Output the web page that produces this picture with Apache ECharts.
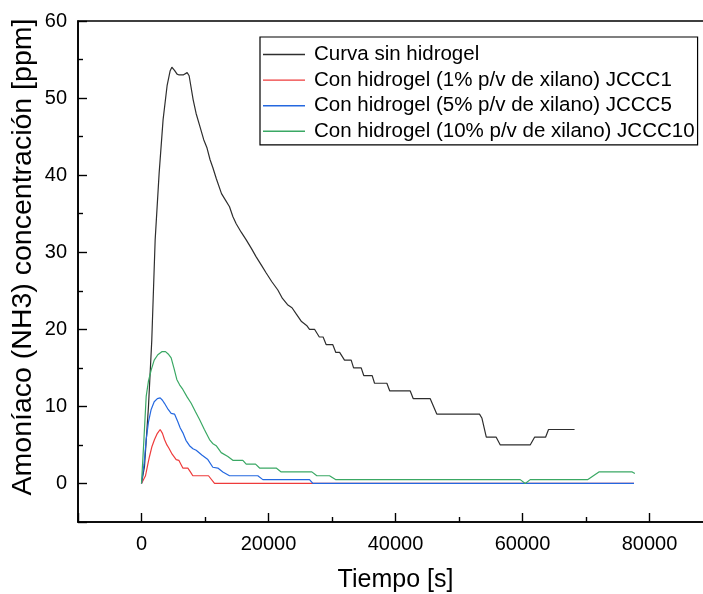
<!DOCTYPE html>
<html>
<head>
<meta charset="utf-8">
<script src="https://cdn.jsdelivr.net/npm/echarts@6/dist/echarts.min.js"></script>
<style>
  html, body { margin: 0; padding: 0; background: #fff; }
  #chart { width: 703px; height: 594px; }
</style>
</head>
<body>
<div id="chart"></div>
<script>
// Series names shown in the legend
const seriesNames = [
  'Curva sin hidrogel',
  'Con hidrogel (1% p/v de xilano) JCCC1',
  'Con hidrogel (5% p/v de xilano) JCCC5',
  'Con hidrogel (10% p/v de xilano) JCCC10'
];

// Ammonia concentration readings: [time (s), concentration (ppm)]
const sinHidrogel = [
  [0, 0], [470, 2.2], [1100, 10.0], [1620, 18.6], [2150, 31.6], [2780, 40.3],
  [3400, 47.2], [4030, 51.6], [4500, 53.5], [4780, 54.0], [5200, 53.6], [5600, 53.1],
  [5930, 53.0], [6560, 53.0], [7190, 53.3], [7500, 52.9], [8130, 49.8], [8600, 48.0],
  [9240, 46.2], [9800, 44.6], [10290, 43.6], [10800, 42.0], [11230, 41.0], [11800, 39.5],
  [12600, 37.6], [13200, 36.8], [13860, 35.9], [14400, 34.6], [14910, 33.7], [15700, 32.6],
  [16490, 31.6], [17300, 30.5], [18060, 29.4], [18900, 28.3], [19640, 27.3], [20500, 26.2],
  [21470, 25.1], [22200, 24.0], [23000, 23.2], [23700, 22.8], [24360, 22.0], [25200, 21.0],
  [26000, 20.5], [26460, 20.0], [27250, 20.0], [28000, 19.0], [28600, 19.0], [29090, 18.0],
  [30130, 18.0], [30600, 17.0], [31200, 17.0], [31970, 16.0], [33020, 16.0], [33400, 15.0],
  [34600, 15.0], [35000, 14.0], [36330, 14.0], [36700, 13.0], [38640, 13.0], [39100, 12.0],
  [42320, 12.0], [42800, 11.0], [45470, 11.0], [46500, 9.0], [53230, 9.0], [53600, 8.5],
  [54300, 6.0], [55860, 6.0], [56500, 5.0], [61210, 5.0], [61900, 6.0], [63630, 6.0],
  [64100, 7.0], [68200, 7.0]
];

const jccc1 = [
  [0, 0], [300, 0.2], [630, 1.0], [1000, 2.5], [1260, 3.5], [1650, 4.8], [2050, 5.7],
  [2500, 6.5], [2940, 7.0], [3300, 6.5], [3620, 5.7], [4000, 5.0], [4300, 4.6], [4830, 3.8],
  [5460, 3.1], [5880, 3.0], [6200, 2.5], [6510, 2.0], [7300, 2.0], [7700, 1.5], [8080, 1.0],
  [10550, 1.0], [11500, 0], [77560, 0]
];

const jccc5 = [
  [0, 0], [400, 2.5], [740, 5.7], [1100, 8.0], [1520, 9.6], [2000, 10.6], [2500, 11.0],
  [2940, 11.1], [3300, 10.8], [3620, 10.4], [4200, 9.6], [4670, 9.1], [5200, 9.0], [5720, 8.0],
  [6100, 7.2], [6500, 6.6], [7000, 5.6], [7560, 4.9], [8100, 4.5], [8610, 4.3], [9500, 3.7],
  [10450, 3.1], [11230, 2.1], [12020, 2.0], [12810, 1.5], [13860, 1.0], [18320, 1.0],
  [19110, 0.5], [26460, 0.5], [26985, 0], [77560, 0]
];

const jccc10 = [
  [0, 0], [400, 6.0], [740, 11.3], [1100, 13.3], [1520, 14.7], [2000, 16.0], [2570, 16.7],
  [3200, 17.1], [3780, 17.1], [4200, 16.8], [4670, 16.3], [5100, 15.0], [5560, 13.5],
  [6000, 12.8], [6510, 12.2], [7200, 11.2], [7820, 10.4], [8500, 9.3], [9140, 8.3],
  [9900, 7.0], [10710, 5.7], [11200, 5.2], [11760, 4.9], [12550, 4.0], [13600, 3.5],
  [14380, 3.0], [15960, 3.0], [16490, 2.5], [17960, 2.5], [18590, 2.0], [21210, 2.0],
  [22000, 1.5], [26830, 1.5], [27610, 1.0], [29610, 1.0], [30555, 0.5], [59640, 0.5],
  [60430, 0], [61210, 0.5], [70300, 0.5], [72030, 1.5], [77280, 1.5], [77700, 1.3]
];

const seriesData = [sinHidrogel, jccc1, jccc5, jccc10];
const seriesColors = ['#2e2e2e', '#ee3b3b', '#2468e0', '#3aa864'];

const FONT = 'Liberation Sans, Arial, sans-serif';

const chart = echarts.init(document.getElementById('chart'), null, { renderer: 'canvas' });

const axisCommon = {
  axisLine: { show: true, onZero: false, lineStyle: { color: '#000', width: 1.6 } },
  axisTick: { show: true, inside: true, length: 9, lineStyle: { color: '#000', width: 1.4 } },
  minorTick: { show: true, splitNumber: 2, length: 5, lineStyle: { color: '#000', width: 1.4 } },
  splitLine: { show: false },
  axisLabel: {
    color: '#000', fontFamily: FONT, fontSize: 20, margin: 11, showMinLabel: false,
    formatter: (v) => String(v)
  }
};

chart.setOption({
  animation: false,
  backgroundColor: '#fff',
  grid: {
    left: 78, right: -10, top: 21, bottom: 72,
    containLabel: false, outerBoundsMode: 'none',
    show: true, borderColor: '#000', borderWidth: 1.6, backgroundColor: 'transparent'
  },
  legend: {
    orient: 'vertical',
    left: 260, top: 37,
    padding: [7, 3, 3, 3],
    icon: 'rect',
    itemWidth: 42, itemHeight: 1.4, itemGap: 4.6,
    borderColor: '#000', borderWidth: 1.2,
    textStyle: { color: '#000', fontFamily: FONT, fontSize: 20.5, lineHeight: 20, padding: [0, 0, 0, 4] },
    data: seriesNames
  },
  xAxis: Object.assign({}, axisCommon, {
    type: 'value', min: -10000, max: 90000, splitNumber: 5,
    name: 'Tiempo [s]', nameLocation: 'middle', nameGap: 46, nameMoveOverlap: false,
    nameTextStyle: { color: '#000', fontFamily: FONT, fontSize: 25 },
    axisLabel: Object.assign({}, axisCommon.axisLabel, { margin: 12, showMaxLabel: false })
  }),
  yAxis: Object.assign({}, axisCommon, {
    type: 'value', min: -5, max: 60, splitNumber: 6,
    name: 'Amoníaco (NH3) concentración [ppm]', nameLocation: 'middle', nameGap: 40,
    nameMoveOverlap: false,
    nameTextStyle: { color: '#000', fontFamily: FONT, fontSize: 28.5, padding: [0, 0, 0, 29] }
  }),
  series: seriesNames.map((name, i) => ({
    name: name,
    type: 'line',
    data: seriesData[i],
    symbol: 'none',
    showSymbol: false,
    smooth: false,
    color: seriesColors[i],
    lineStyle: { color: seriesColors[i], width: 1.2 },
    z: 2 + i
  }))
});
</script>
</body>
</html>
